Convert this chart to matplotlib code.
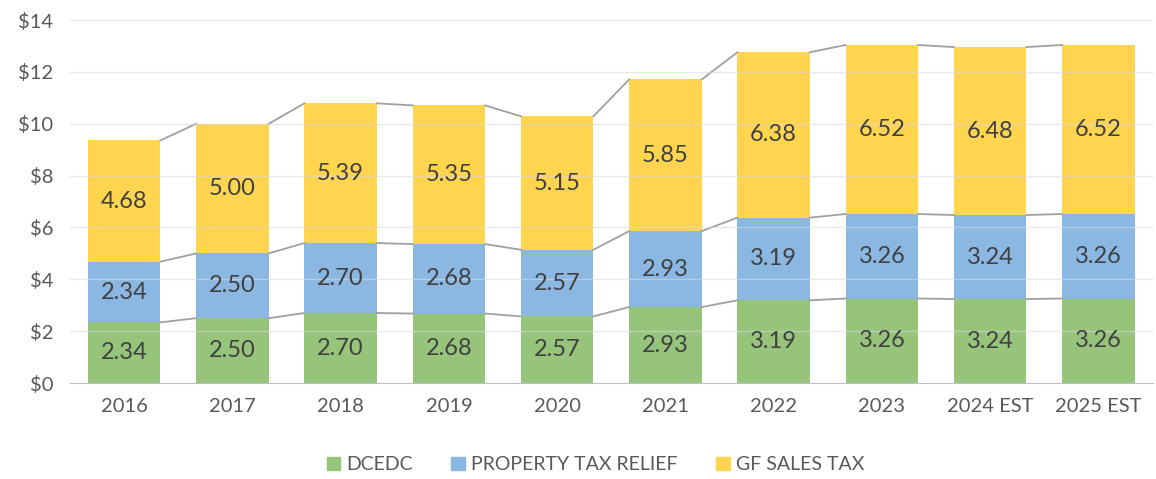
import numpy as np
import matplotlib.pyplot as plt
from matplotlib.patches import Patch

years = ["2016", "2017", "2018", "2019", "2020", "2021", "2022", "2023", "2024 EST", "2025 EST"]
dcedc = [2.34, 2.50, 2.70, 2.68, 2.57, 2.93, 3.19, 3.26, 3.24, 3.26]
prop_tax = [2.34, 2.50, 2.70, 2.68, 2.57, 2.93, 3.19, 3.26, 3.24, 3.26]
gf_sales = [4.68, 5.00, 5.39, 5.35, 5.15, 5.85, 6.38, 6.52, 6.48, 6.52]
series_names = ["DCEDC", "PROPERTY TAX RELIEF", "GF SALES TAX"]
colors = ["#96C47A", "#8BB7E3", "#FFD44F"]

plt.rcParams['font.family'] = ['Lato', 'DejaVu Sans']
txt = "#404040"
tick_col = "#595959"

fig = plt.figure(figsize=(11.56, 4.79), dpi=100)
ax = fig.add_axes([0.0606, 0.2004, 0.9364, 0.7576])

x = np.arange(len(years))
w = 0.67
bottom = np.zeros(len(years))
for vals, col in zip([dcedc, prop_tax, gf_sales], colors):
    vals = np.array(vals)
    ax.bar(x, vals, w, bottom=bottom, color=col, zorder=2)
    for xi, b, v in zip(x, bottom, vals):
        ax.text(xi, b + v / 2, f"{v:.2f}", ha="center", va="center",
                fontsize=17, color=txt, zorder=5)
    bottom = bottom + vals
    # series lines between bars
    for i in range(len(years) - 1):
        ax.plot([x[i] + w / 2, x[i + 1] - w / 2], [bottom[i], bottom[i + 1]],
                color="#A0A0A0", lw=1.3, zorder=3)

ax.set_ylim(0, 14)
ax.set_xlim(-0.5, len(years) - 0.5)
ax.set_yticks(np.arange(0, 15, 2))
ax.set_yticklabels([f"${v}" for v in range(0, 15, 2)])
ax.set_xticks(x)
ax.set_xticklabels(years)
ax.tick_params(axis="both", length=0, labelsize=14.5, colors=tick_col)
ax.tick_params(axis="x", pad=11)
ax.tick_params(axis="y", pad=12)
for yv in range(2, 15, 2):
    ax.axhline(yv, color="#D9D9D9", lw=1, zorder=4, alpha=0.6)
for s in ["top", "right", "left"]:
    ax.spines[s].set_visible(False)
ax.spines["bottom"].set_color("#BFBFBF")
ax.spines["bottom"].set_zorder(6)

handles = [Patch(color=c, label=n) for c, n in zip(colors, series_names)]
fig.legend(handles=handles, loc="center", bbox_to_anchor=(0.515, 0.03), ncol=3,
           frameon=False, fontsize=14, handlelength=0.7, handleheight=0.7,
           columnspacing=2.0, handletextpad=0.3, labelcolor=tick_col)

fig.savefig("out.png", dpi=100)
